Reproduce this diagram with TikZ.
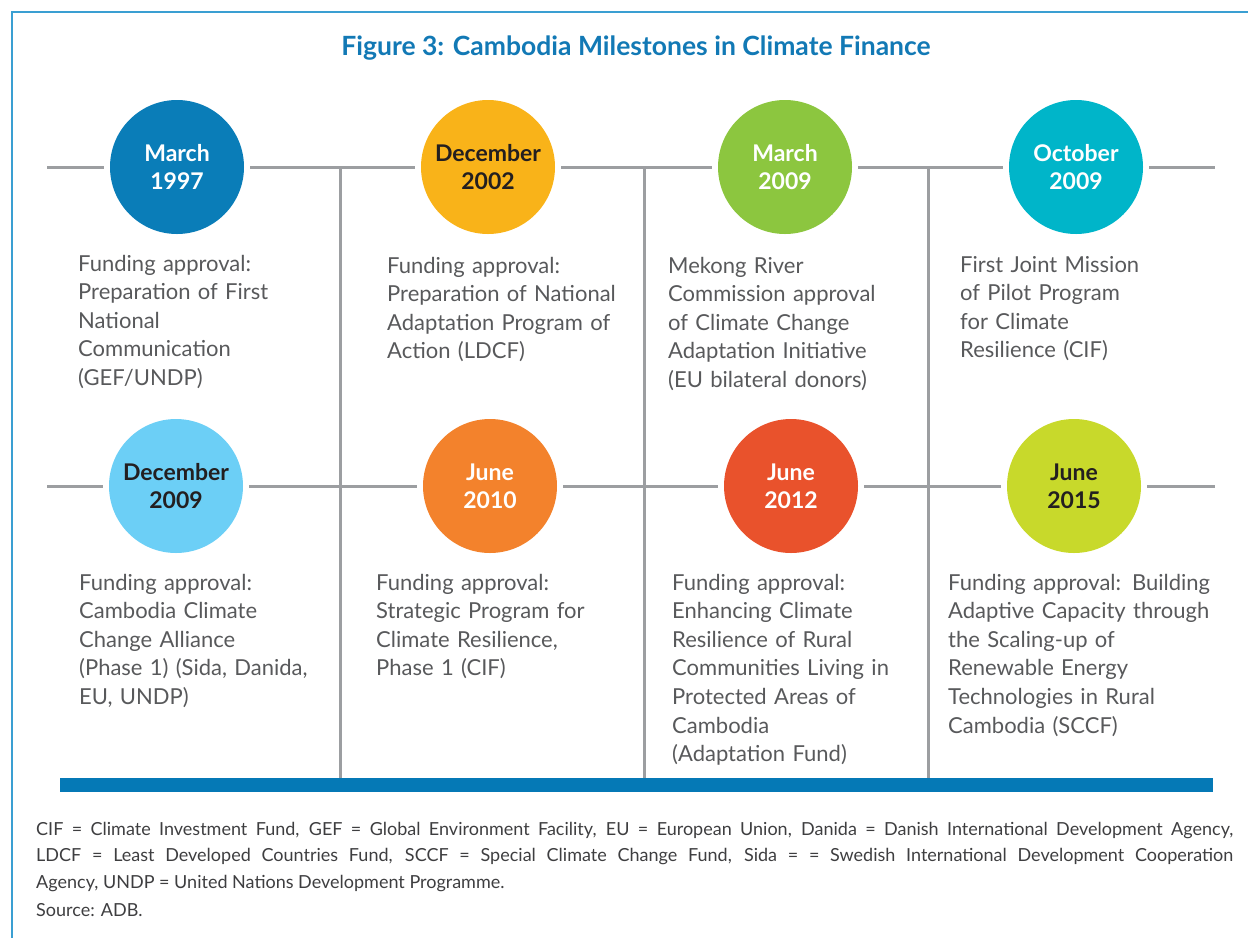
\documentclass[tikz,border=0pt]{standalone}
\usepackage{fontspec}
\setmainfont{Lato}
\usepackage{xcolor}

\definecolor{frameblue}{HTML}{3A9FD2}
\definecolor{titleblue}{HTML}{1279B5}
\definecolor{barblue}{HTML}{0579B6}
\definecolor{linegray}{HTML}{9C9EA1}
\definecolor{textgray}{HTML}{58595B}
\definecolor{notegray}{HTML}{3E3E40}
\definecolor{darktext}{HTML}{231F20}
\definecolor{mblue}{HTML}{0A7DB8}
\definecolor{myellow}{HTML}{F9B319}
\definecolor{mgreen}{HTML}{8CC63F}
\definecolor{mteal}{HTML}{00B5C9}
\definecolor{mlight}{HTML}{6CCFF6}
\definecolor{morange}{HTML}{F3822C}
\definecolor{mred}{HTML}{E9522C}
\definecolor{mlime}{HTML}{C8D92B}

\tikzset{
    milestone/.style={circle, fill=#1, minimum size=134pt, inner sep=0pt, outer sep=6pt,
        align=center, text=white, font=\fontsize{23}{28}\selectfont\bfseries},
    timeline/.style={draw=linegray, line width=3pt},
    desc/.style={anchor=base west, inner sep=0pt, align=left, text width=300pt,
        text=textgray, font=\fontsize{22}{28.6}\selectfont},
    notetext/.style={anchor=base west, inner sep=0pt, text=notegray, font=\fontsize{18}{26.5}\selectfont},
}

\begin{document}
\begin{tikzpicture}[x=1pt, y=-1pt]
    \useasboundingbox (0,0) rectangle (1248,938);
    % Frame
    \coordinate (ftop) at (1248,12);
    \coordinate (fbot) at (12,938);
    \draw[frameblue, line width=1.5pt] (ftop) -| (fbot);
    % Title
    \node[text=titleblue, font=\fontsize{26.5}{30}\selectfont\bfseries] (title) at (636,48) {Figure 3: Cambodia Milestones in Climate Finance};
    % Bar
    \node[fill=barblue, minimum width=1153pt, minimum height=14pt, inner sep=0pt] (bar) at (636.5,785) {};
    % Milestones, first row
    \node[milestone=mblue] (m1) at (177,167) {March\\1997};
    \node[milestone=myellow, text=darktext] (m2) at (488,167) {December\\2002};
    \node[milestone=mgreen] (m3) at (785,167) {March\\2009};
    \node[milestone=mteal] (m4) at (1076,167) {October\\2009};
    % Milestones, second row
    \node[milestone=mlight, text=darktext] (m5) at (176,486) {December\\2009};
    \node[milestone=morange] (m6) at (490,486) {June\\2010};
    \node[milestone=mred] (m7) at (791,486) {June\\2012};
    \node[milestone=mlime, text=darktext] (m8) at (1074,486) {June\\2015};
    % Timelines
    \coordinate (r1a) at (47,167);
    \coordinate (r1b) at (1215,167);
    \coordinate (r2a) at (47,486);
    \coordinate (r2b) at (1215,486);
    \draw[timeline] (r1a) -- (m1) (m1) -- (m2) (m2) -- (m3) (m3) -- (m4) (m4) -- (r1b);
    \draw[timeline] (r2a) -- (m5) (m5) -- (m6) (m6) -- (m7) (m7) -- (m8) (m8) -- (r2b);
    % Dividers
    \coordinate (v1) at (340,167);
    \coordinate (v2) at (644,167);
    \coordinate (v3) at (928,167);
    \draw[timeline] (v1) -- (v1 |- bar.north);
    \draw[timeline] (v2) -- (v2 |- bar.north);
    \draw[timeline] (v3) -- (v3 |- bar.north);
    % Descriptions, first row
    \node[desc] (d1) at (78,271) {Funding approval:\\Preparation of First\\National\\Communication\\(GEF/UNDP)};
    \node[desc] (d2) at (387,273) {Funding approval:\\Preparation of National\\Adaptation Program of\\Action (LDCF)};
    \node[desc] (d3) at (668,273) {Mekong River\\Commission approval\\of Climate Change\\Adaptation Initiative\\(EU bilateral donors)};
    \node[desc] (d4) at (960,272) {First Joint Mission\\of Pilot Program\\for Climate\\Resilience (CIF)};
    % Descriptions, second row
    \node[desc] (d5) at (79,590) {Funding approval:\\Cambodia Climate\\Change Alliance\\(Phase 1) (Sida, Danida,\\EU, UNDP)};
    \node[desc] (d6) at (376,590) {Funding approval:\\Strategic Program for\\Climate Resilience,\\Phase 1 (CIF)};
    \node[desc] (d7) at (672,590) {Funding approval:\\Enhancing Climate\\Resilience of Rural\\Communities Living in\\Protected Areas of\\Cambodia\\(Adaptation Fund)};
    \node[desc] (d8) at (948,590) {Funding approval: Building\\Adaptive Capacity through\\the Scaling-up of\\Renewable Energy\\Technologies in Rural\\Cambodia (SCCF)};
    % Notes
    \node[notetext, text width=1197pt, align=justify] (note) at (36,835) {CIF = Climate Investment Fund, GEF = Global Environment Facility, EU = European Union, Danida = Danish International Development Agency,\linebreak LDCF = Least Developed Countries Fund, SCCF = Special Climate Change Fund, Sida = = Swedish International Development Cooperation\linebreak Agency, UNDP = United Nations Development Programme.};
    \node[notetext] (source) at (36,916) {Source: ADB.};
\end{tikzpicture}
\end{document}
